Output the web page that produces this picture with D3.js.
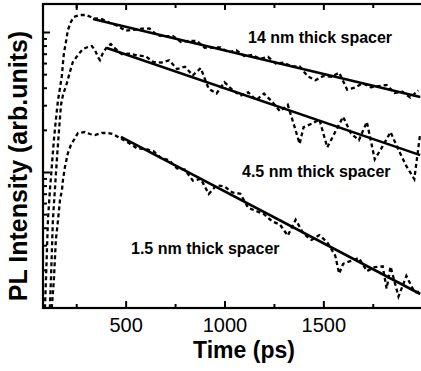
<!DOCTYPE html>
<html><head><meta charset="utf-8">
<script src="https://cdn.jsdelivr.net/npm/d3@7"></script>
<style>
html,body{margin:0;padding:0;background:#fff;}
svg{display:block;}
text{font-family:"Liberation Sans",Arial,Helvetica,sans-serif;fill:#000;}
</style></head><body>
<svg id="chart" width="421" height="371"></svg>
<script>
// ---- tick values ----
const timeMajorTicks = [500, 1000, 1500];
const timeMinorTicks = [250, 750, 1250, 1750];
const intensityMajorTicks = [0.1, 1];
const intensityMinorTicks = [0.02,0.03,0.04,0.05,0.06,0.07,0.08,0.09,0.2,0.3,0.4,0.5,0.6,0.7,0.8,0.9];
const seriesLabels = ["14 nm thick spacer", "4.5 nm thick spacer", "1.5 nm thick spacer"];

// ---- measured PL transients (time in ps, intensity arb. units) ----
const time14 = [85,92,97,102,107,117,127,137,147,158,168,178,183,188,198,208,223,238,269,299,324,
  340,380,420,460,500,540,580,620,660,700,740,780,820,860,900,940,980,1020,1060,1100,1140,1180,1220,1260,1300,1340,1380,1420,1460,1500,1540,1580,1620,1660,1700,1740,1780,1820,1860,1900,1940,1980];
const intensity14 = [0.0095,0.011,0.0169,0.0277,0.0454,0.0744,0.112,0.169,0.235,0.327,0.398,0.493,0.601,0.708,0.848,1.033,1.179,1.28,1.323,1.323,1.28,
  1.253,1.236,1.160,1.106,1.020,1.038,1.057,1.059,0.946,0.933,0.935,0.848,0.864,0.865,0.772,0.774,0.776,0.716,0.741,0.673,0.685,0.642,0.665,0.595,0.605,0.568,0.569,0.483,0.453,0.485,0.479,0.512,0.388,0.401,0.430,0.403,0.410,0.418,0.367,0.374,0.340,0.382];

const time45 = [112,117,122,127,132,142,152,163,173,183,203,218,233,259,284,309,329,345,360,370,385,405,425,
  440,480,520,560,600,640,680,720,760,800,840,880,920,960,1000,1040,1080,1120,1160,1200,1240,1280,1320,1360,1380,1400,1440,1480,1520,1560,1600,1640,1680,1720,1760,1800,1840,1880,1920,1960,1990];
const intensity45 = [0.0095,0.011,0.0169,0.0277,0.0454,0.0744,0.1219,0.1995,0.301,0.3548,0.4323,0.518,0.6105,0.685,0.756,0.781,0.794,0.743,0.663,0.631,0.708,0.781,0.82,
  0.777,0.696,0.700,0.679,0.672,0.612,0.605,0.628,0.544,0.565,0.490,0.552,0.393,0.364,0.438,0.386,0.351,0.371,0.327,0.363,0.319,0.272,0.302,0.198,0.159,0.209,0.221,0.237,0.150,0.193,0.248,0.188,0.169,0.228,0.123,0.153,0.193,0.144,0.110,0.089,0.189];

const time15 = [122,127,137,142,147,158,168,178,183,193,208,223,238,259,294,319,345,380,411,436,471,
  520,560,600,640,680,720,760,800,840,880,920,960,1000,1040,1080,1120,1160,1200,1240,1280,1320,1360,1400,1440,1480,1520,1560,1580,1600,1640,1680,1720,1760,1800,1820,1840,1880,1920,1960,1990];
const intensity15 = [0.0095,0.011,0.0169,0.0235,0.0327,0.0454,0.0631,0.0744,0.0877,0.1086,0.1367,0.1559,0.1693,0.19,0.1931,0.1868,0.1838,0.19,0.19,0.1868,0.175,
  0.160,0.147,0.146,0.141,0.1255,0.1213,0.1059,0.104,0.0867,0.0893,0.0697,0.0804,0.0789,0.0714,0.0700,0.0555,0.0527,0.0500,0.0445,0.0422,0.0351,0.0456,0.0361,0.0327,0.0354,0.0314,0.0253,0.0188,0.0221,0.0232,0.0243,0.0196,0.0209,0.0212,0.0147,0.0211,0.0129,0.0181,0.0139,0.0139];

// ---- single-exponential fits (endpoints) ----
const fitTime14 = [335, 1990], fitIntensity14 = [1.238, 0.343];
const fitTime45 = [405, 1990], fitIntensity45 = [0.769, 0.132];
const fitTime15 = [476, 1990], fitIntensity15 = [0.178, 0.01345];

// ---- layout ----
const svg = d3.select("#chart");
const pLeft = 43, pTop = 4, pRight = 423, pBottom = 308;
const x = d3.scaleLinear().domain([82, 2004]).range([pLeft, pRight]);
const y = d3.scaleLog().domain([0.01068, 1.585]).range([pBottom, pTop]);

svg.append("defs").append("clipPath").attr("id","clip")
  .append("rect").attr("x", pLeft).attr("y", pTop).attr("width", pRight-pLeft).attr("height", pBottom-pTop);

const zip = (t, v) => t.map((d,i) => [d, v[i]]);
const line = d3.line().x(d => x(d[0])).y(d => y(d[1]));

const plot = svg.append("g").attr("clip-path","url(#clip)");
[[time14,intensity14],[time45,intensity45],[time15,intensity15]].forEach(([t,v]) => {
  plot.append("path").attr("d", line(zip(t,v)))
    .attr("fill","none").attr("stroke","#000").attr("stroke-width",2.3)
    .attr("stroke-dasharray","4,3");
});
[[fitTime14,fitIntensity14],[fitTime45,fitIntensity45],[fitTime15,fitIntensity15]].forEach(([t,v]) => {
  plot.append("path").attr("d", line(zip(t,v)))
    .attr("fill","none").attr("stroke","#000").attr("stroke-width",2.6);
});

// ---- axes ----
function styleAxis(g){
  g.select(".domain").remove();
  g.selectAll(".tick line").attr("stroke","#000").attr("stroke-width",2);
  g.attr("font-family", null).attr("font-size", null);
}
svg.append("g").attr("transform",`translate(0,${pBottom})`)
  .call(d3.axisBottom(x).tickValues(timeMajorTicks).tickSize(-7).tickPadding(10).tickFormat(d3.format("d")))
  .call(styleAxis)
  .selectAll("text").style("font-size","20px");
svg.append("g").attr("transform",`translate(0,${pBottom})`)
  .call(d3.axisBottom(x).tickValues(timeMinorTicks).tickSize(-4).tickFormat(""))
  .call(styleAxis);
svg.append("g").attr("transform",`translate(0,${pTop})`)
  .call(d3.axisTop(x).tickValues(timeMajorTicks.concat([250])).tickSize(-6).tickFormat(""))
  .call(styleAxis);
svg.append("g").attr("transform",`translate(0,${pTop})`)
  .call(d3.axisTop(x).tickValues(timeMinorTicks).tickSize(-4).tickFormat(""))
  .call(styleAxis);
svg.append("g").attr("transform",`translate(${pLeft},0)`)
  .call(d3.axisLeft(y).tickValues(intensityMajorTicks).tickSize(-7).tickFormat(""))
  .call(styleAxis);
svg.append("g").attr("transform",`translate(${pLeft},0)`)
  .call(d3.axisLeft(y).tickValues(intensityMinorTicks).tickSize(-4).tickFormat(""))
  .call(styleAxis);

// frame
svg.append("rect").attr("x",pLeft).attr("y",pTop).attr("width",pRight-pLeft).attr("height",pBottom-pTop)
  .attr("fill","none").attr("stroke","#000").attr("stroke-width",2.2);

// ---- titles ----
svg.append("text").attr("x",244).attr("y",358).attr("text-anchor","middle")
  .style("font-size","23px").style("font-weight","bold").text("Time (ps)");
svg.append("text").attr("transform","translate(27,166) rotate(-90)").attr("text-anchor","middle")
  .style("font-size","25px").style("font-weight","bold").text("PL Intensity (arb.units)");

// ---- series labels ----
const labelPos = [[248,43],[242,177],[131,254]];
seriesLabels.forEach((s,i) => {
  svg.append("text").attr("x",labelPos[i][0]).attr("y",labelPos[i][1])
    .style("font-size","16px").style("font-weight","bold").text(s);
});
</script>
</body></html>
